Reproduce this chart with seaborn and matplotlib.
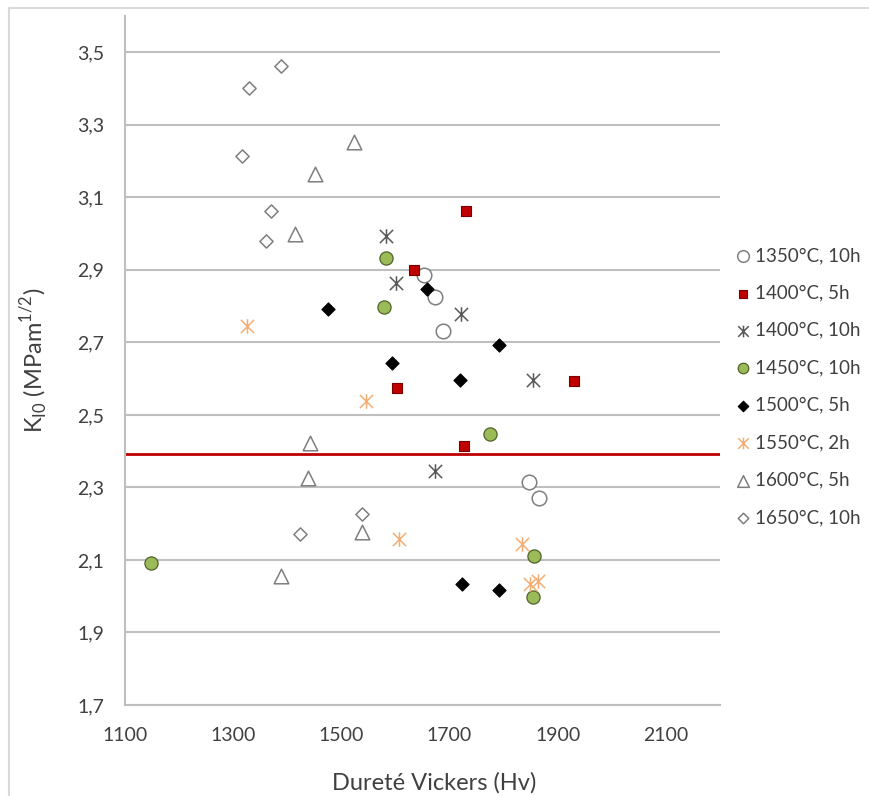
import matplotlib
matplotlib.use("Agg")
import matplotlib.pyplot as plt
import seaborn as sns
from matplotlib.path import Path
from matplotlib.lines import Line2D

# Data
labels = ["1350°C, 10h", "1400°C, 5h", "1400°C, 10h", "1450°C, 10h",
          "1500°C, 5h", "1550°C, 2h", "1600°C, 5h", "1650°C, 10h"]

hv_1350_10 = [1652, 1673, 1688, 1847, 1865]
k_1350_10 = [2.886, 2.826, 2.732, 2.314, 2.271]

hv_1400_5 = [1730, 1635, 1602, 1930, 1727]
k_1400_5 = [3.061, 2.900, 2.574, 2.593, 2.414]

hv_1400_10 = [1582, 1601, 1722, 1854, 1673]
k_1400_10 = [2.994, 2.863, 2.777, 2.595, 2.346]

hv_1450_10 = [1583, 1579, 1774, 1149, 1856, 1854]
k_1450_10 = [2.932, 2.797, 2.446, 2.091, 2.111, 1.998]

hv_1500_5 = [1476, 1659, 1593, 1791, 1720, 1724, 1791]
k_1500_5 = [2.791, 2.846, 2.642, 2.692, 2.597, 2.033, 2.016]

hv_1550_2 = [1325, 1546, 1607, 1834, 1848, 1864]
k_1550_2 = [2.745, 2.537, 2.159, 2.144, 2.035, 2.042]

hv_1600_5 = [1524, 1452, 1415, 1442, 1439, 1539, 1389]
k_1600_5 = [3.253, 3.163, 3.000, 2.422, 2.325, 2.176, 2.056]

hv_1650_10 = [1389, 1330, 1316, 1370, 1360, 1539, 1424]
k_1650_10 = [3.462, 3.402, 3.215, 3.061, 2.980, 2.227, 2.171]

threshold = 2.393

yticks = [1.7, 1.9, 2.1, 2.3, 2.5, 2.7, 2.9, 3.1, 3.3, 3.5]
ytick_labels = ["1,7", "1,9", "2,1", "2,3", "2,5", "2,7", "2,9", "3,1", "3,3", "3,5"]
xticks = [1100, 1300, 1500, 1700, 1900, 2100]

xs = [hv_1350_10, hv_1400_5, hv_1400_10, hv_1450_10, hv_1500_5, hv_1550_2, hv_1600_5, hv_1650_10]
ys = [k_1350_10, k_1400_5, k_1400_10, k_1450_10, k_1500_5, k_1550_2, k_1600_5, k_1650_10]

# Excel style star: an X with a vertical bar
star = Path([(-1, -1), (1, 1), (-1, 1), (1, -1), (0, -1.1), (0, 1.1)],
            [Path.MOVETO, Path.LINETO, Path.MOVETO, Path.LINETO, Path.MOVETO, Path.LINETO])

# marker, face, edge, size, linewidth
styles = [
    ("o", "white", "#7f7f7f", 110, 1.1),
    ("s", "#c00000", "#7a0000", 60, 0.8),
    (star, "#595959", "#595959", 110, 1.1),
    ("o", "#9bbb59", "#4f6228", 90, 0.9),
    ("D", "black", "black", 45, 0.8),
    (star, "#f2ae74", "#f2ae74", 110, 1.1),
    ("^", "white", "#7f7f7f", 110, 1.1),
    ("D", "white", "#7f7f7f", 45, 1.1),
]

sns.set_theme(style="white")
plt.rcParams["font.family"] = ["Lato", "DejaVu Sans"]
plt.rcParams["mathtext.fontset"] = "custom"
plt.rcParams["mathtext.rm"] = "Lato"

fig = plt.figure(figsize=(8.69, 7.96), dpi=100)
ax = fig.add_axes([0.1438, 0.1143, 0.6847, 0.8656])

ax.axhline(threshold, color="#c00000", lw=2, zorder=2)

for lab, x, y, (m, fc, ec, s, lw) in zip(labels, xs, ys, styles):
    sns.scatterplot(x=x, y=y, ax=ax, marker=m, color=fc, edgecolor=ec,
                    s=s, linewidth=lw, label=lab, zorder=3)

ax.set_xlim(1100, 2200)
ax.set_ylim(1.7, 3.6)
ax.set_xticks(xticks)
ax.set_xticklabels([str(t) for t in xticks])
ax.set_yticks(yticks)
ax.set_yticklabels(ytick_labels)
ax.tick_params(axis="both", length=0, labelsize=14, colors="#404040")
ax.tick_params(axis="x", pad=16)
ax.tick_params(axis="y", pad=15)

ax.yaxis.grid(True, color="#bfbfbf", lw=1.5)
ax.xaxis.grid(False)
for side in ["top", "right"]:
    ax.spines[side].set_visible(False)
for side in ["left", "bottom"]:
    ax.spines[side].set_color("#bfbfbf")
    ax.spines[side].set_linewidth(1.5)

ax.set_xlabel("Dureté Vickers (Hv)", fontsize=17, color="#404040")
ax.set_ylabel(r"K$_{\mathrm{I0}}$ (MPam$^{\mathrm{1/2}}$)", fontsize=17, color="#404040")
ax.xaxis.set_label_coords(0.52, -0.098)
ax.yaxis.set_label_coords(-0.125, 0.5)

ax.legend(loc="upper left", bbox_to_anchor=(735 / 869, 1 - 247 / 796),
          bbox_transform=fig.transFigure, frameon=False, fontsize=13.5,
          handlelength=0.8, handletextpad=0.25, labelspacing=1.09,
          borderpad=0, borderaxespad=0, markerscale=0.8, scatterpoints=1,
          labelcolor="#404040")

# light frame around the chart
fig.add_artist(Line2D([9 / 869, 1], [1 - 8 / 796, 1 - 8 / 796], color="#d9d9d9", lw=1.5))
fig.add_artist(Line2D([9 / 869, 9 / 869], [0, 1 - 8 / 796], color="#d9d9d9", lw=1.5))

plt.savefig("out.png", dpi=100)
